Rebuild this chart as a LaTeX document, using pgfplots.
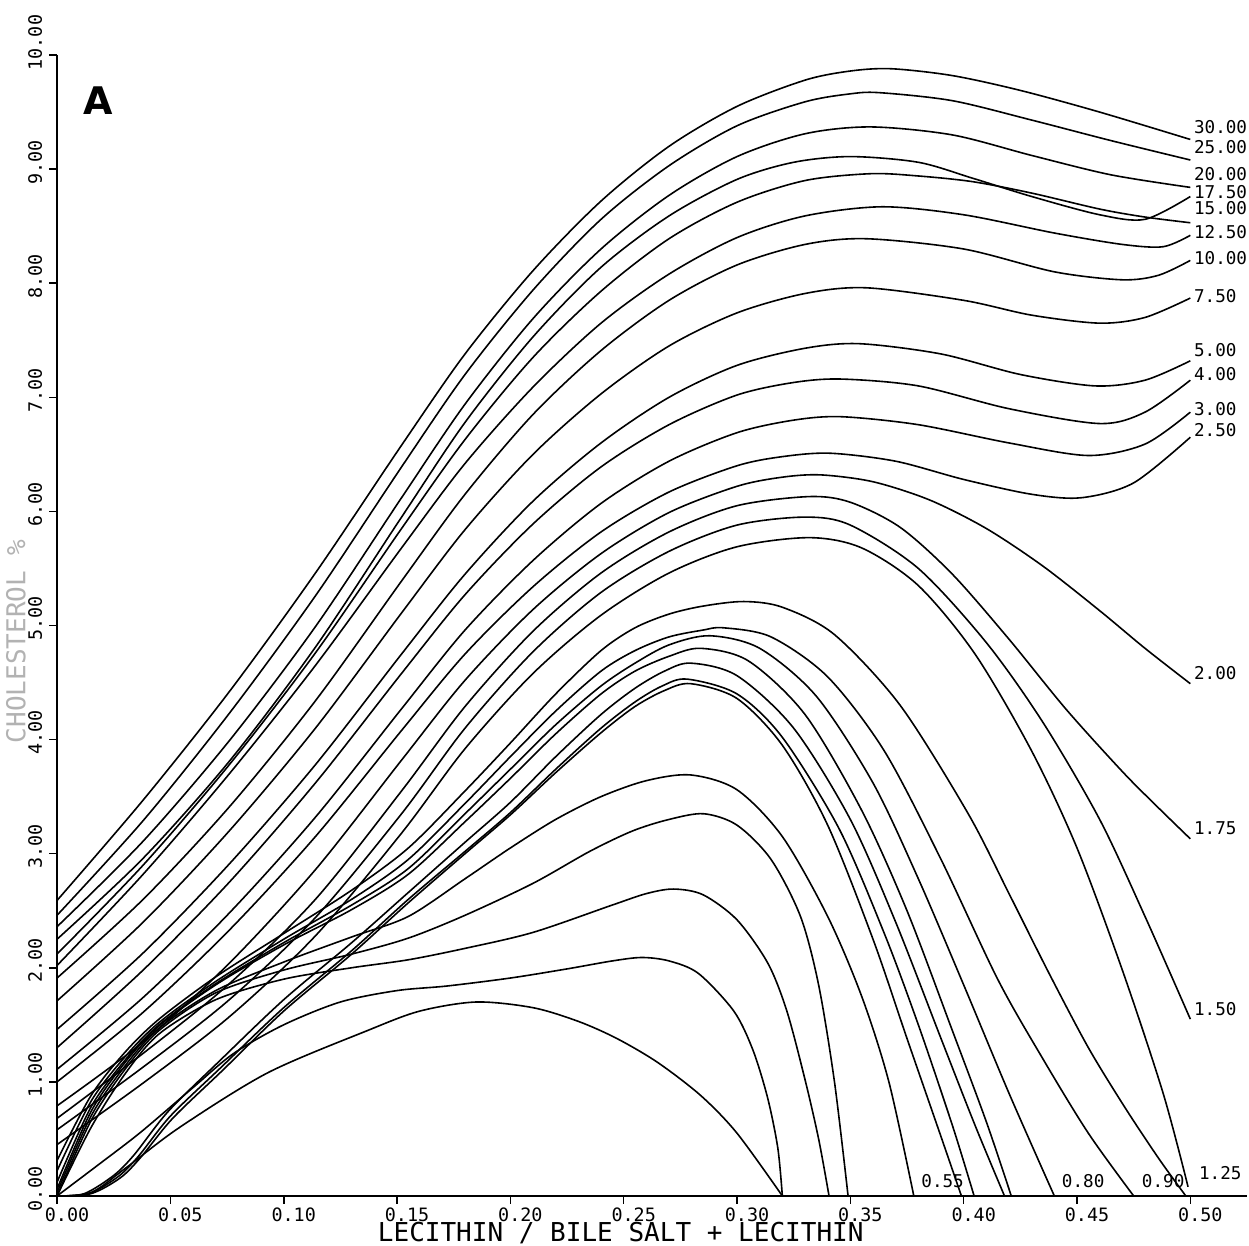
\documentclass[border=0pt]{standalone}
\usepackage{fontspec}
\usepackage{pgfplots}
\pgfplotsset{compat=1.18}
\newfontfamily\plotfont{DejaVu Sans Mono}
\newfontfamily\panelfont{DejaVu Sans}
\newcommand\tickfont{\plotfont\fontsize{4.6}{5}\selectfont}
\newcommand\curvefont{\plotfont\fontsize{4.4}{5}\selectfont}
\newcommand\labelfont{\plotfont\fontsize{6.5}{7}\selectfont}

\pgfplotsset{curve/.style={black, line width=0.4pt, smooth, no marks}}
\tikzset{lab/.style={anchor=west, inner sep=0pt, font=\curvefont}}

\begin{document}
\begin{tikzpicture}
\begin{axis}[
  name=ax, scale only axis, width=297.25pt, height=285pt,
  xmin=0, xmax=0.525, ymin=0, ymax=10,
  axis x line*=bottom, axis y line*=left, axis line style={-, line width=0.4pt},
  xtick={0,0.05,0.1,0.15,0.2,0.25,0.3,0.35,0.4,0.45,0.5},
  ytick={0,1,2,3,4,5,6,7,8,9,10},
  tick align=outside, major tick length=2pt, tick style={line width=0.4pt, black},
  xticklabel style={font=\tickfont, anchor=north, inner sep=0pt, xshift=2.5pt, yshift=-0.75pt},
  yticklabel style={font=\tickfont, inner sep=0pt, xshift=-1.5pt, yshift=-4pt, rotate=90, anchor=south west},
  clip=false,
  /pgf/number format/.cd, fixed, fixed zerofill, precision=2, assume math mode=true
]
% upper family: 30, 25, 20, 17.5, 15, 12.5, 10, 7.5, 5, 4, 3, 2.5, 2, 1.75, 1.5, 1.25
\addplot[curve] coordinates {(0,2.59) (0.038,3.47) (0.076,4.42) (0.114,5.46) (0.152,6.58) (0.18,7.38) (0.21,8.11) (0.24,8.72) (0.27,9.20) (0.30,9.55) (0.33,9.78) (0.35,9.86) (0.368,9.88) (0.395,9.82) (0.425,9.69) (0.46,9.50) (0.5,9.26)};
\addplot[curve] coordinates {(0,2.46) (0.038,3.29) (0.076,4.23) (0.114,5.26) (0.152,6.39) (0.18,7.20) (0.21,7.94) (0.24,8.56) (0.27,9.03) (0.30,9.38) (0.33,9.59) (0.35,9.66) (0.363,9.67) (0.395,9.60) (0.43,9.43) (0.465,9.25) (0.5,9.08)};
\addplot[curve] coordinates {(0,2.36) (0.038,3.11) (0.076,3.99) (0.114,4.99) (0.152,6.12) (0.18,6.94) (0.21,7.69) (0.24,8.30) (0.27,8.77) (0.30,9.11) (0.33,9.31) (0.359,9.37) (0.395,9.30) (0.43,9.12) (0.465,8.95) (0.5,8.84)};
\addplot[curve] coordinates {(0,2.25) (0.038,2.96) (0.076,3.81) (0.114,4.81) (0.152,5.95) (0.18,6.78) (0.21,7.53) (0.24,8.14) (0.27,8.59) (0.30,8.91) (0.325,9.06) (0.35,9.11) (0.38,9.06) (0.404,8.92) (0.43,8.76) (0.46,8.60) (0.48,8.56) (0.5,8.76)};
\addplot[curve] coordinates {(0,2.12) (0.038,2.90) (0.076,3.78) (0.114,4.76) (0.152,5.85) (0.18,6.63) (0.21,7.35) (0.24,7.93) (0.27,8.39) (0.30,8.71) (0.33,8.90) (0.359,8.96) (0.38,8.94) (0.404,8.89) (0.43,8.79) (0.46,8.65) (0.48,8.58) (0.5,8.53)};
\addplot[curve] coordinates {(0,2.02) (0.038,2.82) (0.076,3.70) (0.114,4.65) (0.152,5.68) (0.18,6.42) (0.21,7.09) (0.24,7.65) (0.27,8.08) (0.30,8.40) (0.33,8.59) (0.364,8.67) (0.40,8.60) (0.44,8.44) (0.47,8.34) (0.488,8.32) (0.5,8.42)};
\addplot[curve] coordinates {(0,1.91) (0.038,2.60) (0.076,3.41) (0.114,4.34) (0.152,5.39) (0.18,6.15) (0.21,6.85) (0.24,7.41) (0.27,7.85) (0.30,8.16) (0.33,8.34) (0.357,8.39) (0.40,8.30) (0.44,8.10) (0.47,8.03) (0.486,8.07) (0.5,8.20)};
\addplot[curve] coordinates {(0,1.71) (0.038,2.40) (0.076,3.20) (0.114,4.10) (0.152,5.11) (0.18,5.84) (0.21,6.50) (0.24,7.03) (0.27,7.45) (0.30,7.74) (0.33,7.91) (0.357,7.96) (0.40,7.85) (0.43,7.72) (0.46,7.65) (0.48,7.70) (0.5,7.87)};
\addplot[curve] coordinates {(0,1.46) (0.038,2.13) (0.076,2.91) (0.114,3.78) (0.152,4.75) (0.18,5.45) (0.21,6.09) (0.24,6.60) (0.27,7.00) (0.30,7.28) (0.33,7.43) (0.354,7.47) (0.39,7.38) (0.425,7.20) (0.458,7.10) (0.48,7.15) (0.5,7.32)};
\addplot[curve] coordinates {(0,1.30) (0.038,1.98) (0.076,2.75) (0.114,3.62) (0.152,4.58) (0.18,5.27) (0.21,5.89) (0.24,6.39) (0.27,6.76) (0.30,7.02) (0.325,7.13) (0.346,7.16) (0.38,7.10) (0.42,6.90) (0.46,6.77) (0.48,6.87) (0.5,7.15)};
\addplot[curve] coordinates {(0,1.11) (0.038,1.74) (0.076,2.48) (0.114,3.32) (0.152,4.27) (0.18,4.96) (0.21,5.57) (0.24,6.07) (0.27,6.44) (0.30,6.69) (0.325,6.80) (0.346,6.83) (0.38,6.76) (0.42,6.60) (0.455,6.49) (0.48,6.59) (0.5,6.87)};
\addplot[curve] coordinates {(0,1.00) (0.038,1.61) (0.076,2.33) (0.114,3.15) (0.152,4.08) (0.18,4.75) (0.21,5.34) (0.24,5.82) (0.27,6.17) (0.30,6.40) (0.32,6.48) (0.341,6.51) (0.37,6.44) (0.40,6.28) (0.43,6.15) (0.452,6.12) (0.475,6.25) (0.5,6.65)};
\addplot[curve] coordinates {(0,0.79) (0.038,1.35) (0.076,2.04) (0.114,2.86) (0.152,3.82) (0.18,4.52) (0.21,5.14) (0.24,5.63) (0.27,5.99) (0.30,6.22) (0.32,6.30) (0.337,6.32) (0.36,6.26) (0.385,6.10) (0.41,5.85) (0.435,5.52) (0.46,5.13) (0.48,4.80) (0.5,4.49)};
\addplot[curve] coordinates {(0,0.68) (0.038,1.25) (0.076,1.86) (0.114,2.60) (0.152,3.55) (0.18,4.29) (0.21,4.95) (0.24,5.46) (0.27,5.82) (0.30,6.05) (0.332,6.13) (0.35,6.08) (0.372,5.86) (0.395,5.45) (0.42,4.88) (0.445,4.27) (0.47,3.72) (0.485,3.42) (0.5,3.13)};
\addplot[curve] coordinates {(0,0.58) (0.038,1.13) (0.076,1.72) (0.114,2.44) (0.152,3.35) (0.18,4.10) (0.21,4.77) (0.24,5.29) (0.27,5.65) (0.30,5.88) (0.33,5.95) (0.35,5.88) (0.38,5.50) (0.41,4.85) (0.435,4.15) (0.46,3.30) (0.48,2.45) (0.5,1.55)};
\addplot[curve] coordinates {(0,0.45) (0.038,0.99) (0.076,1.57) (0.114,2.28) (0.152,3.18) (0.18,3.92) (0.21,4.58) (0.24,5.09) (0.27,5.46) (0.30,5.69) (0.332,5.77) (0.355,5.68) (0.38,5.35) (0.405,4.75) (0.43,3.90) (0.45,3.05) (0.47,1.98) (0.488,0.90) (0.499,0.08)};
% curves that fall back to the baseline
\addplot[curve] coordinates {(0,0.31) (0.015,0.88) (0.03,1.26) (0.045,1.55) (0.07,1.92) (0.10,2.30) (0.13,2.68) (0.155,3.05) (0.18,3.55) (0.20,3.97) (0.22,4.40) (0.24,4.78) (0.255,4.98) (0.27,5.10) (0.285,5.17) (0.303,5.21) (0.32,5.16) (0.343,4.92) (0.372,4.30) (0.402,3.35) (0.42,2.65) (0.4377,1.95) (0.455,1.30) (0.471,0.78) (0.486,0.33) (0.498,0)};
\addplot[curve] coordinates {(0,0.22) (0.015,0.83) (0.03,1.22) (0.045,1.52) (0.07,1.88) (0.10,2.25) (0.13,2.60) (0.155,2.95) (0.18,3.44) (0.20,3.85) (0.22,4.25) (0.24,4.60) (0.255,4.78) (0.27,4.90) (0.285,4.96) (0.294,4.98) (0.315,4.90) (0.34,4.55) (0.365,3.90) (0.39,2.95) (0.415,1.90) (0.435,1.20) (0.455,0.55) (0.475,0)};
\addplot[curve] coordinates {(0,0.12) (0.015,0.78) (0.03,1.19) (0.045,1.50) (0.07,1.86) (0.10,2.22) (0.13,2.55) (0.155,2.87) (0.18,3.35) (0.20,3.74) (0.22,4.13) (0.24,4.47) (0.255,4.67) (0.27,4.83) (0.288,4.91) (0.31,4.80) (0.335,4.38) (0.36,3.62) (0.38,2.78) (0.40,1.85) (0.42,0.90) (0.44,0)};
\addplot[curve] coordinates {(0,0.06) (0.015,0.74) (0.03,1.17) (0.045,1.49) (0.07,1.85) (0.10,2.20) (0.13,2.51) (0.155,2.82) (0.18,3.28) (0.20,3.66) (0.22,4.05) (0.24,4.40) (0.255,4.60) (0.27,4.73) (0.284,4.80) (0.305,4.69) (0.33,4.22) (0.355,3.38) (0.375,2.50) (0.395,1.45) (0.41,0.65) (0.421,0)};
\addplot[curve] coordinates {(0,0) (0.012,0.02) (0.025,0.18) (0.034,0.36) (0.049,0.74) (0.071,1.17) (0.10,1.72) (0.13,2.22) (0.155,2.66) (0.18,3.10) (0.20,3.45) (0.22,3.85) (0.24,4.22) (0.255,4.45) (0.268,4.60) (0.2796,4.67) (0.30,4.56) (0.325,4.10) (0.35,3.30) (0.37,2.40) (0.39,1.38) (0.405,0.62) (0.418,0)};
\addplot[curve] coordinates {(0,0) (0.014,0.02) (0.027,0.17) (0.036,0.35) (0.05,0.70) (0.072,1.12) (0.10,1.65) (0.13,2.15) (0.155,2.60) (0.18,3.02) (0.20,3.36) (0.22,3.74) (0.24,4.10) (0.255,4.33) (0.267,4.47) (0.278,4.53) (0.30,4.40) (0.32,4.02) (0.345,3.22) (0.365,2.30) (0.38,1.50) (0.395,0.62) (0.4046,0)};
\addplot[curve] coordinates {(0,0) (0.015,0.02) (0.028,0.16) (0.037,0.34) (0.051,0.68) (0.073,1.10) (0.10,1.62) (0.13,2.12) (0.155,2.57) (0.18,3.00) (0.20,3.34) (0.22,3.71) (0.24,4.06) (0.255,4.29) (0.268,4.43) (0.2796,4.49) (0.30,4.36) (0.32,3.95) (0.34,3.25) (0.36,2.25) (0.375,1.38) (0.39,0.52) (0.399,0)};
\addplot[curve] coordinates {(0,0.03) (0.015,0.70) (0.03,1.14) (0.045,1.47) (0.07,1.80) (0.10,2.05) (0.13,2.27) (0.155,2.45) (0.18,2.78) (0.20,3.05) (0.22,3.30) (0.24,3.50) (0.26,3.64) (0.2796,3.69) (0.30,3.56) (0.32,3.15) (0.34,2.45) (0.355,1.75) (0.367,1.00) (0.378,0)};
\addplot[curve] coordinates {(0,0) (0.015,0.66) (0.03,1.11) (0.045,1.45) (0.07,1.78) (0.10,1.98) (0.13,2.12) (0.155,2.26) (0.18,2.46) (0.21,2.74) (0.235,3.02) (0.254,3.20) (0.27,3.30) (0.2853,3.35) (0.30,3.25) (0.315,2.95) (0.328,2.45) (0.336,1.85) (0.343,1.00) (0.349,0)};
\addplot[curve] coordinates {(0,0) (0.015,0.60) (0.03,1.07) (0.045,1.42) (0.07,1.72) (0.10,1.90) (0.13,2.00) (0.155,2.07) (0.18,2.17) (0.21,2.31) (0.245,2.55) (0.26,2.65) (0.272,2.69) (0.285,2.64) (0.30,2.42) (0.3136,2.04) (0.322,1.62) (0.33,1.02) (0.336,0.50) (0.3406,0)};
\addplot[curve] coordinates {(0,0) (0.02,0.30) (0.037,0.56) (0.06,0.95) (0.078,1.25) (0.10,1.50) (0.125,1.70) (0.15,1.80) (0.172,1.84) (0.20,1.91) (0.225,1.99) (0.245,2.06) (0.258,2.09) (0.27,2.06) (0.283,1.95) (0.2986,1.62) (0.307,1.28) (0.3135,0.86) (0.318,0.42) (0.32,0)};
\addplot[curve] coordinates {(0,0) (0.015,0.03) (0.03,0.24) (0.054,0.60) (0.093,1.08) (0.137,1.45) (0.16,1.62) (0.185,1.70) (0.21,1.65) (0.23,1.53) (0.247,1.38) (0.265,1.17) (0.284,0.88) (0.30,0.55) (0.32,0)};

% curve labels
\node[lab] at (axis cs:0.5013,9.37) {30.00};
\node[lab] at (axis cs:0.5013,9.19) {25.00};
\node[lab] at (axis cs:0.5013,8.96) {20.00};
\node[lab] at (axis cs:0.5013,8.80) {17.50};
\node[lab] at (axis cs:0.5013,8.66) {15.00};
\node[lab] at (axis cs:0.5013,8.45) {12.50};
\node[lab] at (axis cs:0.5013,8.22) {10.00};
\node[lab] at (axis cs:0.5013,7.89) {7.50};
\node[lab] at (axis cs:0.5013,7.41) {5.00};
\node[lab] at (axis cs:0.5013,7.20) {4.00};
\node[lab] at (axis cs:0.5013,6.90) {3.00};
\node[lab] at (axis cs:0.5013,6.71) {2.50};
\node[lab] at (axis cs:0.5013,4.58) {2.00};
\node[lab] at (axis cs:0.5013,3.22) {1.75};
\node[lab] at (axis cs:0.5013,1.64) {1.50};
\node[lab] at (axis cs:0.5035,0.20) {1.25};
\node[lab] at (axis cs:0.381,0.13) {0.55};
\node[lab] at (axis cs:0.443,0.13) {0.80};
\node[lab] at (axis cs:0.4783,0.13) {0.90};

\node[font=\panelfont\bfseries\fontsize{9.5}{10}\selectfont] at (axis cs:0.0181,9.60) {A};
\node[font=\labelfont, text=black!30, rotate=90, anchor=south, inner sep=0pt] at (axis cs:-0.0135,4.86) {CHOLESTEROL \%};
\node[font=\labelfont, anchor=south, inner sep=0pt] at (axis cs:0.2487,-0.425) {LECITHIN / BILE SALT + LECITHIN};
\end{axis}
\pgfresetboundingbox
\path ([shift={(-14.25pt,-12.5pt)}]ax.south west) rectangle ([shift={(0.5pt,13.75pt)}]ax.north east);
\end{tikzpicture}
\end{document}
